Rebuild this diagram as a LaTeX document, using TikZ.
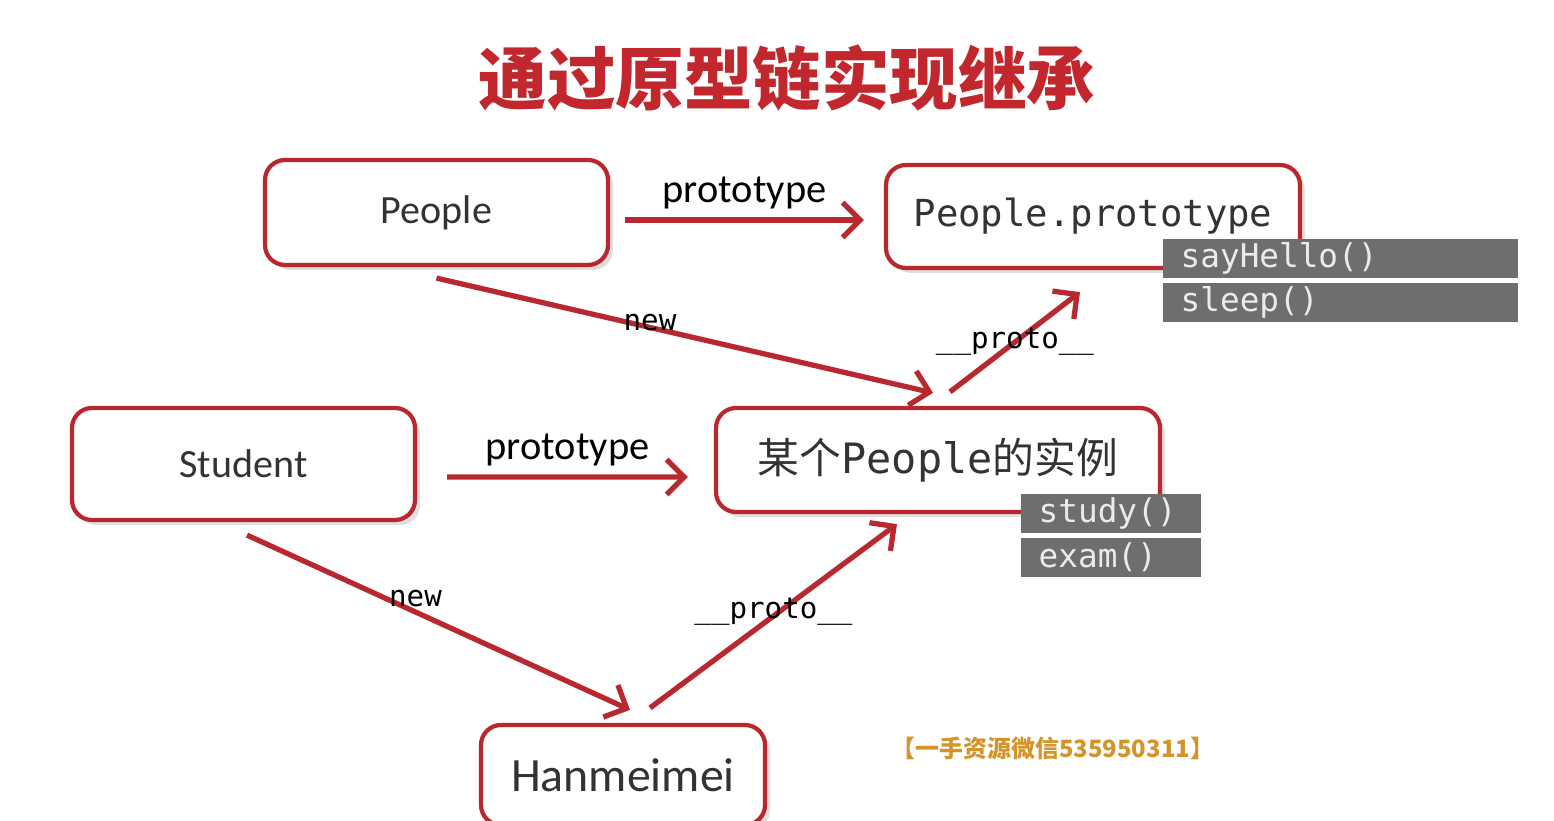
\documentclass[tikz,border=0pt]{standalone}
\usepackage{fontspec}
\setmainfont{Carlito}
\setmonofont{DejaVu Sans Mono}
\newfontfamily\cjk{Noto Sans CJK SC}
\usepackage{tikz}
\usetikzlibrary{arrows.meta, positioning, calc, shadows}
\usepackage{xcolor}
\definecolor{boxred}{HTML}{B9282E}
\definecolor{titlered}{HTML}{C1272D}
\definecolor{methodgray}{HTML}{6E6E6E}
\definecolor{markgold}{HTML}{D4942A}
\definecolor{txtgray}{HTML}{333333}

\begin{document}
\begin{tikzpicture}[
  objbox/.style={draw=boxred, line width=1.2pt, rounded corners=0.2cm, fill=white,
    drop shadow={shadow xshift=0.5mm, shadow yshift=-0.5mm, opacity=0.25},
    text=txtgray, font=\fontsize{11.4}{13}\selectfont},
  method/.style={fill=methodgray, text=white!92!black, anchor=north west, inner xsep=0.18cm,
    inner ysep=0pt, minimum height=0.39cm, align=left, font=\ttfamily\fontsize{9.3}{10}\selectfont},
  arr/.style={draw=boxred, line width=1.5pt, -{Straight Barb[length=5pt, width=10pt]}},
  lbl/.style={font=\fontsize{11.5}{13}\selectfont, text=black},
  tag/.style={font=\ttfamily\fontsize{8.3}{10}\selectfont, text=black}
]
\fill[white] (0,0) rectangle (15.54,8.2);
\useasboundingbox (0,0) rectangle (15.54,8.2);

% title
\node[font=\cjk\bfseries\fontsize{19.5}{22}\selectfont, text=titlered] (title) at (7.87,7.42) {通过原型链实现继承};

% objects
\node[objbox, minimum width=3.43cm, minimum height=1.05cm] (people) at (4.365,6.075) {People};
\node[objbox, minimum width=4.14cm, minimum height=1.03cm, font=\ttfamily\fontsize{10.6}{12}\selectfont] (peopleproto) at (10.93,6.035) {People.prototype};
\node[objbox, minimum width=3.43cm, minimum height=1.12cm] (student) at (2.435,3.56) {Student};
\node[objbox, minimum width=4.44cm, minimum height=1.04cm, font=\fontsize{11.9}{14}\selectfont] (instance) at (9.38,3.60) {\cjk 某个\ttfamily People\cjk 的实例};
\node[objbox, minimum width=2.84cm, minimum height=1.0cm, font=\fontsize{13.6}{16}\selectfont] (hanmeimei) at (6.23,0.45) {Hanmeimei};

% methods
\node[method, text width=3.19cm] (sayhello) at (11.62,5.82) {sayHello()};
\node[method, text width=3.19cm, below=0.04cm of sayhello] (sleep) {sleep()};
\node[method, text width=1.44cm] (study) at (10.20,3.27) {study()};
\node[method, text width=1.44cm, below=0.04cm of study] (exam) {exam()};

% links
\draw[arr] ([shift={(0.15,-0.075)}]people.east) -- node[lbl, above=-0.3mm]{prototype} ([shift={(-0.2,-0.035)}]peopleproto.west);
\draw[arr] ([yshift=-0.11cm]people.south) -- node[tag, pos=0.43, yshift=0.5mm]{new} ([shift={(-0.05,0.13)}]instance.north);
\draw[arr] ([shift={(0.12,0.14)}]instance.north) -- node[tag]{\_\_proto\_\_} ([shift={(-0.13,-0.22)}]peopleproto.south);
\draw[arr] ([shift={(0.3,-0.13)}]student.east) -- node[lbl, above=-0.3mm]{prototype} ([shift={(-0.26,-0.17)}]instance.west);
\draw[arr] ([shift={(0.035,-0.13)}]student.south) -- node[tag, pos=0.44, yshift=1.3mm]{new} ([shift={(0.07,0.13)}]hanmeimei.north);
\draw[arr] ([shift={(0.27,0.15)}]hanmeimei.north) -- node[tag, yshift=0.4mm]{\_\_proto\_\_} ([shift={(-0.41,-0.10)}]instance.south);

\node[font=\cjk\bfseries\fontsize{6.8}{8}\selectfont, text=markgold] (mark) at (10.53,0.72) {【一手资源微信535950311】};
\end{tikzpicture}
\end{document}
